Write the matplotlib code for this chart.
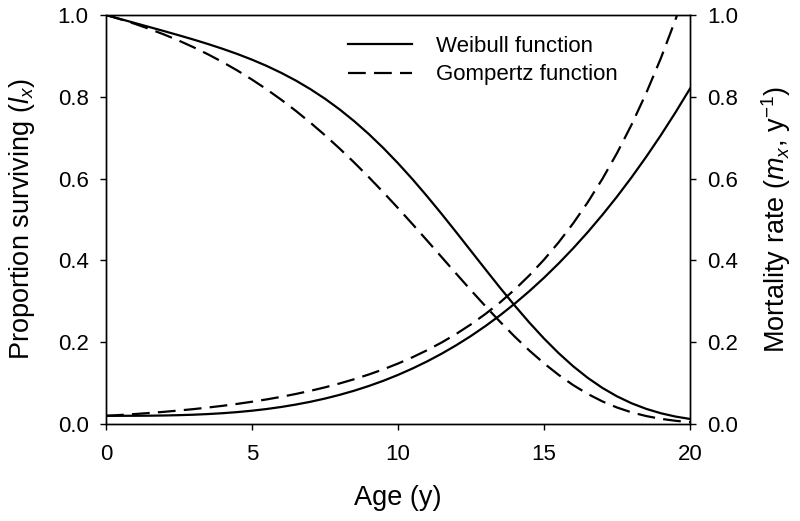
import matplotlib
matplotlib.use("Agg")
import matplotlib.pyplot as plt

plt.rcParams['font.family'] = ['Liberation Sans', 'DejaVu Sans']
plt.rcParams['mathtext.fontset'] = 'custom'
plt.rcParams['mathtext.rm'] = 'Liberation Sans'
plt.rcParams['mathtext.it'] = 'Liberation Sans:italic'

age = [0, 0.5, 1, 1.5, 2, 2.5, 3, 3.5, 4, 4.5, 5, 5.5, 6, 6.5, 7, 7.5, 8, 8.5, 9, 9.5,
       10, 10.5, 11, 11.5, 12, 12.5, 13, 13.5, 14, 14.5, 15, 15.5, 16, 16.5, 17, 17.5,
       18, 18.5, 19, 19.5, 20]

# proportion surviving
weibull_lx = [1.0, 0.9900, 0.9802, 0.9703, 0.9604, 0.9503, 0.9399, 0.9289, 0.9172,
              0.9046, 0.8908, 0.8756, 0.8586, 0.8398, 0.8187, 0.7953, 0.7692, 0.7404,
              0.7089, 0.6746, 0.6376, 0.5982, 0.5565, 0.5131, 0.4684, 0.4230, 0.3776,
              0.3327, 0.2893, 0.2478, 0.2090, 0.1733, 0.1411, 0.1127, 0.0882, 0.0676,
              0.0506, 0.0370, 0.0263, 0.0182, 0.0123]
gompertz_lx = [1.0, 0.9895, 0.9781, 0.9656, 0.9520, 0.9372, 0.9211, 0.9036, 0.8847,
               0.8642, 0.8421, 0.8184, 0.7929, 0.7657, 0.7367, 0.7060, 0.6735, 0.6393,
               0.6035, 0.5663, 0.5279, 0.4884, 0.4482, 0.4076, 0.3670, 0.3268, 0.2876,
               0.2496, 0.2134, 0.1795, 0.1483, 0.1201, 0.0950, 0.0734, 0.0552, 0.0403,
               0.0284, 0.0194, 0.0126, 0.0079, 0.0043]

# mortality rate
weibull_mx = [0.02, 0.0200, 0.0201, 0.0203, 0.0208, 0.0216, 0.0227, 0.0243, 0.0264,
              0.0291, 0.0325, 0.0366, 0.0416, 0.0475, 0.0543, 0.0622, 0.0712, 0.0814,
              0.0929, 0.1057, 0.1200, 0.1358, 0.1531, 0.1721, 0.1928, 0.2153, 0.2397,
              0.2660, 0.2944, 0.3249, 0.3575, 0.3924, 0.4296, 0.4692, 0.5113, 0.5559,
              0.6032, 0.6532, 0.7059, 0.7615, 0.8200]
gompertz_mx = [0.02, 0.0221, 0.0244, 0.0270, 0.0298, 0.0330, 0.0364, 0.0403, 0.0445,
               0.0492, 0.0544, 0.0601, 0.0664, 0.0734, 0.0811, 0.0896, 0.0991, 0.1095,
               0.1210, 0.1337, 0.1478, 0.1633, 0.1805, 0.1995, 0.2205, 0.2437, 0.2693,
               0.2976, 0.3289, 0.3635, 0.4017, 0.4440, 0.4907, 0.5423, 0.5993, 0.6623,
               0.7320, 0.8090, 0.8940, 0.9881, 1.0920]

xticks = [0, 5, 10, 15, 20]
yticks = [0.0, 0.2, 0.4, 0.6, 0.8, 1.0]

fig = plt.figure(figsize=(8, 5.21), dpi=100)
ax = fig.add_axes([0.1325, 0.1862, 0.73, 0.785])
ax2 = ax.twinx()

dash = (0, (8, 3.7))
lw = 1.6

l1, = ax.plot(age, weibull_lx, color='black', lw=lw, label='Weibull function')
l2, = ax.plot(age, gompertz_lx, color='black', lw=lw, ls=dash, label='Gompertz function')
ax2.plot(age, weibull_mx, color='black', lw=lw)
ax2.plot(age, gompertz_mx, color='black', lw=lw, ls=dash)

for a in (ax, ax2):
    a.set_xlim(0, 20)
    a.set_ylim(0, 1)
    a.set_yticks(yticks)
    a.set_yticklabels(['%.1f' % v for v in yticks])
    a.tick_params(direction='out', length=4.5, width=1, labelsize=16, pad=8)
    for s in a.spines.values():
        s.set_linewidth(1)

ax.set_xticks(xticks)
ax.tick_params(axis='x', pad=10)
ax.set_xlabel('Age (y)', fontsize=19.5, labelpad=14)
ax.set_ylabel(r'Proportion surviving ($\mathit{l}_x$)', fontsize=19.5, labelpad=15)
ax2.set_ylabel(r'Mortality rate ($\mathit{m}_x$, y$^{-1}$)', fontsize=19.5, labelpad=15)

fig.legend(handles=[l1, l2], loc='upper left', bbox_to_anchor=(348 / 800, 1 - 36 / 521),
           frameon=False, fontsize=16, handlelength=2.9, handletextpad=1.08,
           borderpad=0, borderaxespad=0, labelspacing=0.33)

fig.savefig('out.png', dpi=100)
